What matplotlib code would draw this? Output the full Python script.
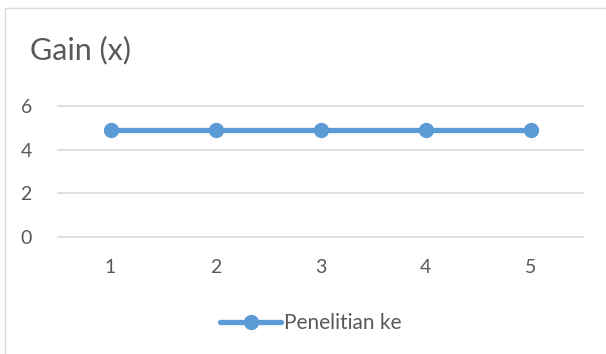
import matplotlib.pyplot as plt
from matplotlib.patches import Rectangle

# Chart data
categories = [1, 2, 3, 4, 5]
gain = [4.9, 4.9, 4.9, 4.9, 4.9]
yticks = [0, 2, 4, 6]
title = "Gain (x)"
series_name = "Penelitian ke"

line_color = "#5B9BD5"
grid_color = "#D9D9D9"
text_color = "#595959"

plt.rcParams['font.family'] = ['Lato', 'DejaVu Sans']

W, H = 606, 354
fig = plt.figure(figsize=(W / 100, H / 100), dpi=100)

# Chart area border (light grey, runs off the right/bottom edge)
fig.patches.append(Rectangle((5 / W, -0.1), 1.2, 1 - 8 / H + 0.1,
                             transform=fig.transFigure, fill=False,
                             edgecolor=grid_color, linewidth=1))

ax = fig.add_axes([58 / W, 1 - 237 / H, (583 - 58) / W, (237 - 106) / H])
xpos = list(range(len(categories)))
ax.plot(xpos, gain, color=line_color, linewidth=3.8, marker='o',
        markersize=10, solid_capstyle='round', label=series_name, clip_on=False)

ax.set_xlim(-0.5, len(categories) - 0.5)
ax.set_ylim(0, 6)
ax.set_yticks(yticks)
ax.set_xticks(xpos)
ax.set_xticklabels([str(c) for c in categories])
ax.grid(axis='y', color=grid_color, linewidth=1.2)
for gl in ax.get_ygridlines():
    gl.set_clip_on(False)
ax.set_axisbelow(True)
for s in ax.spines.values():
    s.set_visible(False)
ax.tick_params(length=0, labelsize=14, colors=text_color)
ax.tick_params(axis='x', pad=16)
for lbl in ax.get_yticklabels():
    lbl.set_horizontalalignment('left')
ax.yaxis.set_tick_params(pad=27)

fig.text(30 / W, 1 - 50 / H, title, fontsize=22, color=text_color,
         ha='left', va='center')

fig.legend(loc='center', bbox_to_anchor=(311 / W, 1 - 323 / H), frameon=False,
           fontsize=15, labelcolor=text_color, handlelength=2.9,
           handletextpad=0.15)

fig.savefig("out.png", dpi=100, facecolor='white')
